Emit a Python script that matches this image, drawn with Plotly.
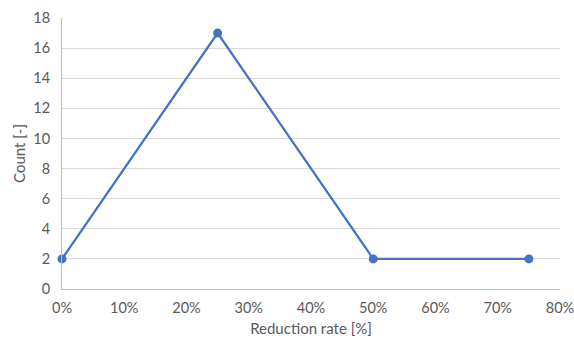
import plotly.graph_objects as go

reduction_rate = [0.0, 0.25, 0.50, 0.75]
count = [2, 17, 2, 2]

x_tick_vals = [0.0, 0.1, 0.2, 0.3, 0.4, 0.5, 0.6, 0.7, 0.8]
x_tick_text = ["0%", "10%", "20%", "30%", "40%", "50%", "60%", "70%", "80%"]
y_tick_vals = list(range(0, 19, 2))

fig = go.Figure()
fig.add_trace(go.Scatter(
    x=reduction_rate, y=count, mode="lines+markers",
    line=dict(color="#4472C4", width=2.25),
    marker=dict(color="#4472C4", size=9),
    cliponaxis=False,
))

font_family = "Lato, 'Open Sans', sans-serif"
fig.update_layout(
    width=574, height=342,
    margin=dict(l=62, r=14, t=18, b=53),
    paper_bgcolor="white", plot_bgcolor="white",
    showlegend=False,
    font=dict(family=font_family, size=14.5, color="#595959"),
    xaxis=dict(
        range=[0, 0.8], tickvals=x_tick_vals, ticktext=x_tick_text,
        showgrid=False, zeroline=False, automargin=False,
        ticklabeloverflow="allow",
        showline=True, linecolor="#BFBFBF", linewidth=1,
        ticks="", ticklabelstandoff=6,
        title=dict(text="Reduction rate [%]", font=dict(size=15, color="#595959"), standoff=8),
    ),
    yaxis=dict(
        range=[0, 18], tickvals=y_tick_vals, automargin=False,
        showgrid=True, gridcolor="#D9D9D9", gridwidth=1,
        zeroline=False, showline=True, linecolor="#BFBFBF", linewidth=1,
        ticks="", ticklabelstandoff=8,
        title=dict(text="Count [-]", font=dict(size=15, color="#595959"), standoff=4),
    ),
)

fig.write_html("out.html")
